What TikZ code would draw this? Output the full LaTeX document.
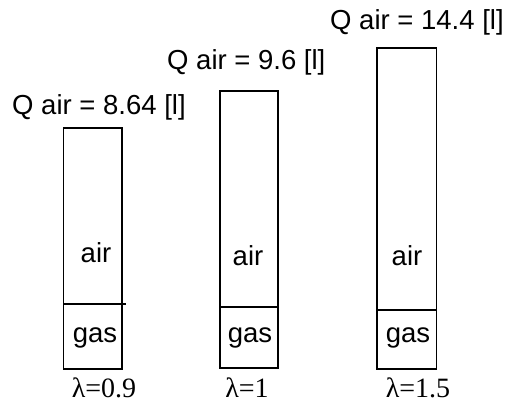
\documentclass[tikz,border=0pt]{standalone}
\usepackage{fontspec}
\setmainfont{Liberation Serif}
\newfontfamily\lsans{Liberation Sans}
\begin{document}
\begin{tikzpicture}[x=1pt,y=-1pt,
  ttl/.style={font=\lsans\fontsize{27.5}{29}\selectfont, inner sep=0pt, anchor=base west},
  lbl/.style={font=\lsans\fontsize{27.5}{29}\selectfont, inner sep=0pt, anchor=base},
  lam/.style={font=\fontsize{28}{30}\selectfont, inner sep=0pt, anchor=base},
  tank/.style={draw=black, line width=1.3pt},
  thick2/.style={draw=black, line width=2.2pt}]
\useasboundingbox (0,0) rectangle (505,403);
% box 1
\draw[tank] (63.5,128) rectangle (122,369);
\draw[line width=1.3pt] (63.5,304) -- (126,304);
% box 2
\draw[tank] (220,91) rectangle (278,368);
\draw[thick2] (220,91) -- (278,91);
\draw[thick2] (220,307) -- (278,307);
% box 3
\draw[tank] (377,48) rectangle (436.5,369);
\draw[line width=1.8pt] (377,310) -- (436.5,310);
% titles
\node[ttl] (t1) at (12,115) {Q air = 8.64 [l]};
\node[ttl] (t2) at (167,70) {Q air = 9.6 [l]};
\node[ttl] (t3) at (330,30) {Q air = 14.4 [l]};
% labels
\node[lbl] (a1) at (96,262) {air};
\node[lbl] (g1) at (95,342) {gas};
\node[lbl] (a2) at (248,265) {air};
\node[lbl] (g2) at (250,342) {gas};
\node[lbl] (a3) at (407,265) {air};
\node[lbl] (g3) at (408,342) {gas};
\node[lam] (l1) at (104,397) {λ=0.9};
\node[lam] (l2) at (247,397) {λ=1};
\node[lam] (l3) at (418,397) {λ=1.5};
\end{tikzpicture}
\end{document}
